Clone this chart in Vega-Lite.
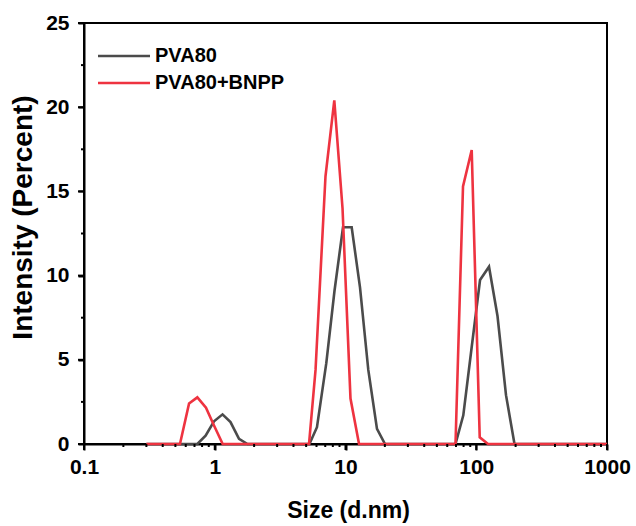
{
  "$schema": "https://vega.github.io/schema/vega-lite/v6.json",
  "width": 523,
  "height": 421,
  "autosize": "none",
  "padding": {"left": 84, "top": 23, "right": 29, "bottom": 82},
  "background": "white",
  "config": {
    "view": {"stroke": "black", "strokeWidth": 2},
    "font": "Liberation Sans",
    "axis": {"grid": false, "domainColor": "black", "domainWidth": 2, "tickColor": "black", "tickOpacity": 1,
             "tickWidth": 2, "tickSize": 6, "ticks": true, "zindex": 0,
             "labelFont": "Liberation Sans", "labelFontWeight": "bold", "labelFontSize": 21, "labelColor": "black",
             "labelFlush": false, "labelOverlap": false, "labelBound": false,
             "titleFont": "Liberation Sans", "titleFontWeight": "bold", "titleColor": "black"}
  },
  "datasets": {
    "curves": [
      {"size": 0.3, "intensity": 0, "series": "PVA80"},
      {"size": 0.736, "intensity": 0, "series": "PVA80"},
      {"size": 0.851, "intensity": 0.5, "series": "PVA80"},
      {"size": 0.987, "intensity": 1.35, "series": "PVA80"},
      {"size": 1.147, "intensity": 1.76, "series": "PVA80"},
      {"size": 1.32, "intensity": 1.3, "series": "PVA80"},
      {"size": 1.533, "intensity": 0.3, "series": "PVA80"},
      {"size": 1.78, "intensity": 0, "series": "PVA80"},
      {"size": 5.3, "intensity": 0, "series": "PVA80"},
      {"size": 6.05, "intensity": 1.0, "series": "PVA80"},
      {"size": 7.13, "intensity": 4.8, "series": "PVA80"},
      {"size": 8.24, "intensity": 9.1, "series": "PVA80"},
      {"size": 9.57, "intensity": 12.87, "series": "PVA80"},
      {"size": 11.15, "intensity": 12.87, "series": "PVA80"},
      {"size": 12.91, "intensity": 9.3, "series": "PVA80"},
      {"size": 14.94, "intensity": 4.4, "series": "PVA80"},
      {"size": 17.41, "intensity": 0.9, "series": "PVA80"},
      {"size": 20.05, "intensity": 0, "series": "PVA80"},
      {"size": 69.4, "intensity": 0, "series": "PVA80"},
      {"size": 79.6, "intensity": 1.7, "series": "PVA80"},
      {"size": 92.1, "intensity": 5.7, "series": "PVA80"},
      {"size": 106.9, "intensity": 9.74, "series": "PVA80"},
      {"size": 125.2, "intensity": 10.53, "series": "PVA80"},
      {"size": 145.4, "intensity": 7.6, "series": "PVA80"},
      {"size": 168.9, "intensity": 2.9, "series": "PVA80"},
      {"size": 196.1, "intensity": 0, "series": "PVA80"},
      {"size": 1000, "intensity": 0, "series": "PVA80"},
      {"size": 0.3, "intensity": 0, "series": "PVA80+BNPP"},
      {"size": 0.542, "intensity": 0, "series": "PVA80+BNPP"},
      {"size": 0.636, "intensity": 2.4, "series": "PVA80+BNPP"},
      {"size": 0.736, "intensity": 2.77, "series": "PVA80+BNPP"},
      {"size": 0.857, "intensity": 2.15, "series": "PVA80+BNPP"},
      {"size": 0.987, "intensity": 1.1, "series": "PVA80+BNPP"},
      {"size": 1.15, "intensity": 0, "series": "PVA80+BNPP"},
      {"size": 5.26, "intensity": 0, "series": "PVA80+BNPP"},
      {"size": 5.9, "intensity": 4.4, "series": "PVA80+BNPP"},
      {"size": 7.03, "intensity": 15.9, "series": "PVA80+BNPP"},
      {"size": 8.21, "intensity": 20.4, "series": "PVA80+BNPP"},
      {"size": 9.49, "intensity": 14.0, "series": "PVA80+BNPP"},
      {"size": 10.92, "intensity": 2.7, "series": "PVA80+BNPP"},
      {"size": 12.69, "intensity": 0, "series": "PVA80+BNPP"},
      {"size": 69.4, "intensity": 0, "series": "PVA80+BNPP"},
      {"size": 79.2, "intensity": 15.3, "series": "PVA80+BNPP"},
      {"size": 92.3, "intensity": 17.46, "series": "PVA80+BNPP"},
      {"size": 106.3, "intensity": 0.4, "series": "PVA80+BNPP"},
      {"size": 123, "intensity": 0, "series": "PVA80+BNPP"},
      {"size": 1000, "intensity": 0, "series": "PVA80+BNPP"}
    ],
    "xmajor": [{"size": 0.1}, {"size": 1}, {"size": 10}, {"size": 100}, {"size": 1000}],
    "xminor": [{"size": 0.2}, {"size": 0.3}, {"size": 0.4}, {"size": 0.5}, {"size": 0.6}, {"size": 0.7}, {"size": 0.8}, {"size": 0.9},
               {"size": 2}, {"size": 3}, {"size": 4}, {"size": 5}, {"size": 6}, {"size": 7}, {"size": 8}, {"size": 9},
               {"size": 20}, {"size": 30}, {"size": 40}, {"size": 50}, {"size": 60}, {"size": 70}, {"size": 80}, {"size": 90},
               {"size": 200}, {"size": 300}, {"size": 400}, {"size": 500}, {"size": 600}, {"size": 700}, {"size": 800}, {"size": 900}],
    "ymajor": [{"intensity": 0}, {"intensity": 5}, {"intensity": 10}, {"intensity": 15}, {"intensity": 20}, {"intensity": 25}],
    "yminor": [{"intensity": 2.5}, {"intensity": 7.5}, {"intensity": 12.5}, {"intensity": 17.5}, {"intensity": 22.5}]
  },
  "layer": [
    {
      "data": {"name": "curves"},
      "mark": {"type": "line", "strokeWidth": 2.6},
      "encoding": {
        "x": {
          "field": "size", "type": "quantitative",
          "scale": {"type": "log", "domain": [0.1, 1000], "nice": false},
          "axis": {
            "title": "Size (d.nm)",
            "values": [0.1, 1, 10, 100, 1000],
            "labelExpr": "'' + datum.value",
            "labelPadding": 6,
            "titleFontSize": 23,
            "titleBaseline": "alphabetic", "titleAlign": "center", "titleX": 264, "titleY": 73
          }
        },
        "y": {
          "field": "intensity", "type": "quantitative",
          "scale": {"domain": [0, 25], "nice": false},
          "axis": {
            "title": "Intensity (Percent)",
            "values": [0, 5, 10, 15, 20, 25],
            "labelExpr": "'' + datum.value",
            "labelPadding": 9,
            "titleFontSize": 28,
            "titleAngle": 270, "titleBaseline": "bottom", "titleAlign": "center", "titleX": -47, "titleY": 194
          }
        },
        "color": {
          "field": "series", "type": "nominal",
          "scale": {"domain": ["PVA80", "PVA80+BNPP"], "range": ["#4b4b4b", "#ee3340"]},
          "legend": {
            "orient": "none", "legendX": 30, "legendY": 23, "title": null,
            "symbolType": "M-5.2,0H5.2", "symbolSize": 100, "symbolStrokeWidth": 2.6,
            "labelFont": "Liberation Sans", "labelFontWeight": "bold", "labelFontSize": 20, "labelColor": "black",
            "labelOffset": 21, "rowPadding": 7, "padding": 0
          }
        }
      }
    },
    {
      "data": {"name": "xmajor"},
      "mark": {"type": "tick", "orient": "vertical", "size": 6, "thickness": 2, "color": "black", "opacity": 1, "yOffset": 3},
      "encoding": {
        "x": {"field": "size", "type": "quantitative", "scale": {"type": "log", "domain": [0.1, 1000], "nice": false}},
        "y": {"datum": 0, "type": "quantitative"}
      }
    },
    {
      "data": {"name": "xminor"},
      "mark": {"type": "tick", "orient": "vertical", "size": 3, "thickness": 2, "color": "black", "opacity": 1, "yOffset": 1.5},
      "encoding": {
        "x": {"field": "size", "type": "quantitative", "scale": {"type": "log", "domain": [0.1, 1000], "nice": false}},
        "y": {"datum": 0, "type": "quantitative"}
      }
    },
    {
      "data": {"name": "ymajor"},
      "mark": {"type": "tick", "orient": "horizontal", "size": 6, "thickness": 2, "color": "black", "opacity": 1, "xOffset": -3},
      "encoding": {
        "y": {"field": "intensity", "type": "quantitative", "scale": {"domain": [0, 25], "nice": false}},
        "x": {"datum": 0.1, "type": "quantitative"}
      }
    },
    {
      "data": {"name": "yminor"},
      "mark": {"type": "tick", "orient": "horizontal", "size": 3, "thickness": 2, "color": "black", "opacity": 1, "xOffset": -1.5},
      "encoding": {
        "y": {"field": "intensity", "type": "quantitative", "scale": {"domain": [0, 25], "nice": false}},
        "x": {"datum": 0.1, "type": "quantitative"}
      }
    }
  ]
}
